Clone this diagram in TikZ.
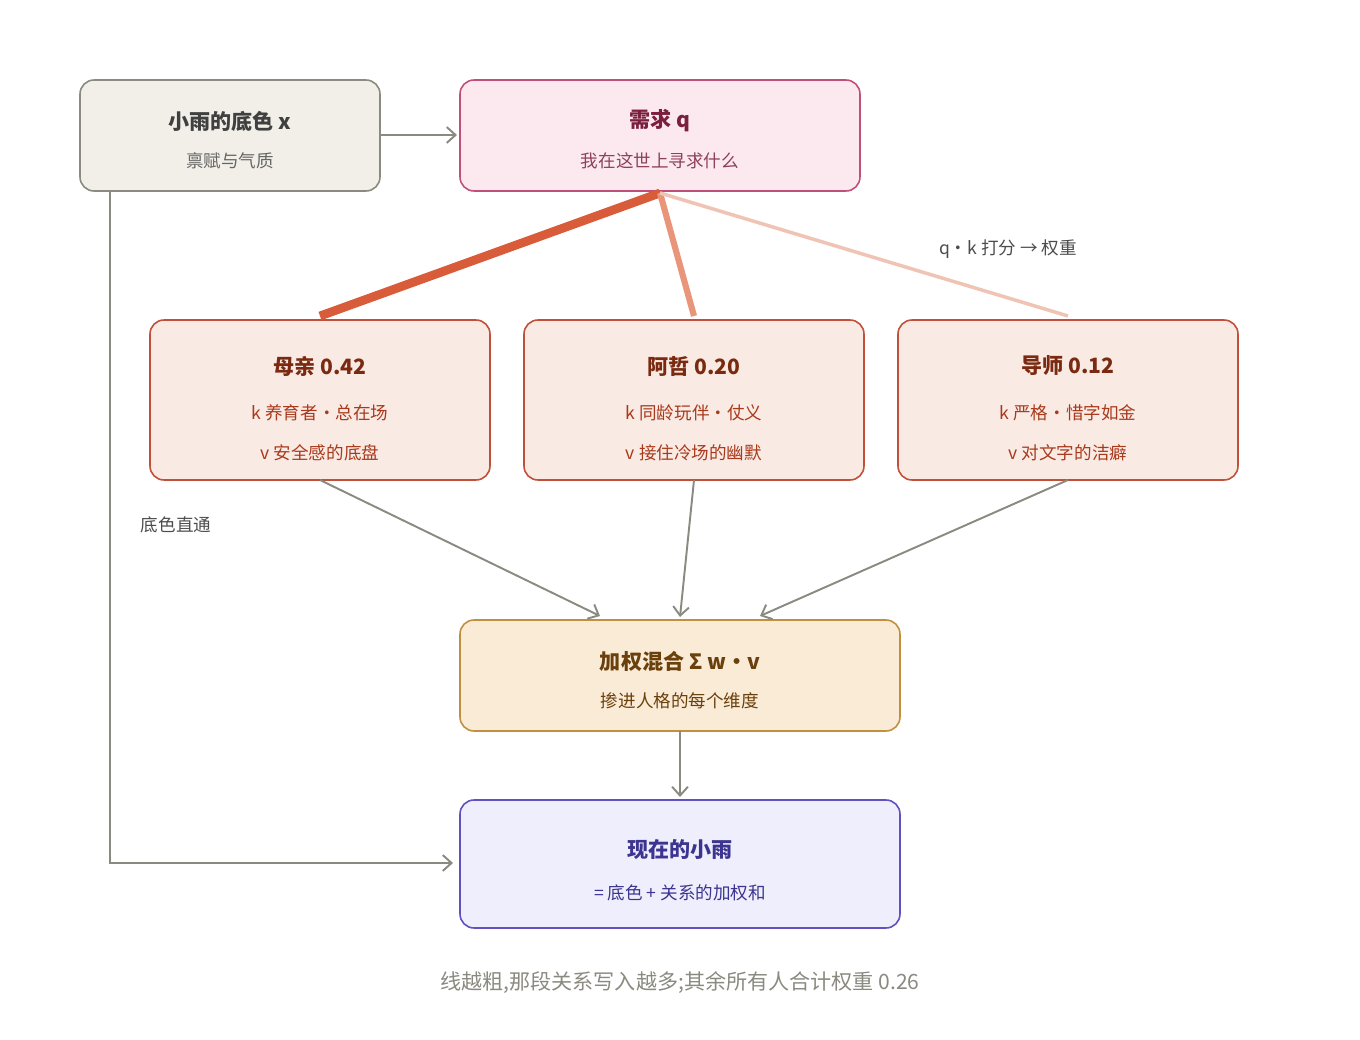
\documentclass[tikz,border=0pt]{standalone}
\usepackage{fontspec}
\setmainfont{Noto Sans CJK SC}
\usetikzlibrary{arrows.meta}
\definecolor{baseFill}{HTML}{F1EFE8}\definecolor{baseLine}{HTML}{8A8A80}
\definecolor{qFill}{HTML}{FBE9EF}\definecolor{qLine}{HTML}{C0507A}\definecolor{qText}{HTML}{7A1F3D}
\definecolor{kFill}{HTML}{FAEAE4}\definecolor{kLine}{HTML}{C0503A}\definecolor{kText}{HTML}{7A2A10}\definecolor{kSub}{HTML}{A83A1C}
\definecolor{mFill}{HTML}{FAEBD7}\definecolor{mLine}{HTML}{C09040}\definecolor{mText}{HTML}{6A400C}
\definecolor{nFill}{HTML}{EEEEFC}\definecolor{nLine}{HTML}{6050C0}\definecolor{nText}{HTML}{3C3490}
\definecolor{wA}{HTML}{D85C3A}\definecolor{wB}{HTML}{E8957A}\definecolor{wC}{HTML}{F0C4B4}
\begin{document}
\begin{tikzpicture}[x=0.02cm,y=-0.02cm,
  box/.style={rounded corners=8pt,line width=0.9pt},
  flow/.style={draw=baseLine,line width=1.1pt,-{Straight Barb[length=5pt,width=9pt]}}]
\useasboundingbox (0,0) rectangle (1360,1040);
% inputs
\draw[box,fill=baseFill,draw=baseLine] (80,80) rectangle (380,191);
\node (x) at (230,135) {};
\node[font=\large\bfseries,text=black!75] at (230,121) {小雨的底色 x};
\node[text=black!60] at (230,161) {禀赋与气质};
\draw[box,fill=qFill,draw=qLine] (460,80) rectangle (860,191);
\node (q) at (660,135) {};
\node[font=\large\bfseries,text=qText] at (660,121) {需求 q};
\node[text=qText!85] at (660,161) {我在这世上寻求什么};
% keys
\foreach \cx/\t/\k/\v/\nm in {320/母亲 0.42/k 养育者・总在场/v 安全感的底盘/mom,
                              694/阿哲 0.20/k 同龄玩伴・仗义/v 接住冷场的幽默/zhe,
                              1068/导师 0.12/k 严格・惜字如金/v 对文字的洁癖/tut}{
  \draw[box,fill=kFill,draw=kLine] (\cx-170,320) rectangle (\cx+170,480);
  \coordinate (\nm-t) at (\cx,316);
  \coordinate (\nm-b) at (\cx,480);
  \node[font=\large\bfseries,text=kText] at (\cx,366) {\t};
  \node[text=kSub] at (\cx,413) {\k};
  \node[text=kSub] at (\cx,453) {\v};
}
\coordinate (q-b) at (660,193);
\draw[wA,line width=5pt] (q-b) -- (mom-t);
\draw[wB,line width=3.5pt] (q-b) -- (zhe-t);
\draw[wC,line width=2pt] (q-b) -- (tut-t);
\node[text=black!70] (score) at (1008,249) {q・k 打分 → 权重};
% mix
\draw[box,fill=mFill,draw=mLine] (460,620) rectangle (900,731);
\node[font=\large\bfseries,text=mText] at (680,661) {加权混合 Σ w・v};
\node[text=mText] at (680,701) {掺进人格的每个维度};
\coordinate (mix-t) at (680,617);
\draw[flow] (mom-b) -- (600,616);
\draw[flow] (zhe-b) -- (mix-t);
\draw[flow] (tut-b) -- (760,616);
% output
\draw[box,fill=nFill,draw=nLine] (460,800) rectangle (900,928);
\node[font=\large\bfseries,text=nText] at (680,849) {现在的小雨};
\node[text=nText] at (680,893) {= 底色 + 关系的加权和};
\draw[flow] (680,731) -- (680,797);
\draw[flow] (380,135) -- (457,135);
\draw[flow] (110,191) -- (110,863) -- (453,863);
\node[text=black!70] at (176,525) {底色直通};
\node[text=baseLine,font=\large] at (680,983) {线越粗,那段关系写入越多;其余所有人合计权重 0.26};
\end{tikzpicture}
\end{document}
